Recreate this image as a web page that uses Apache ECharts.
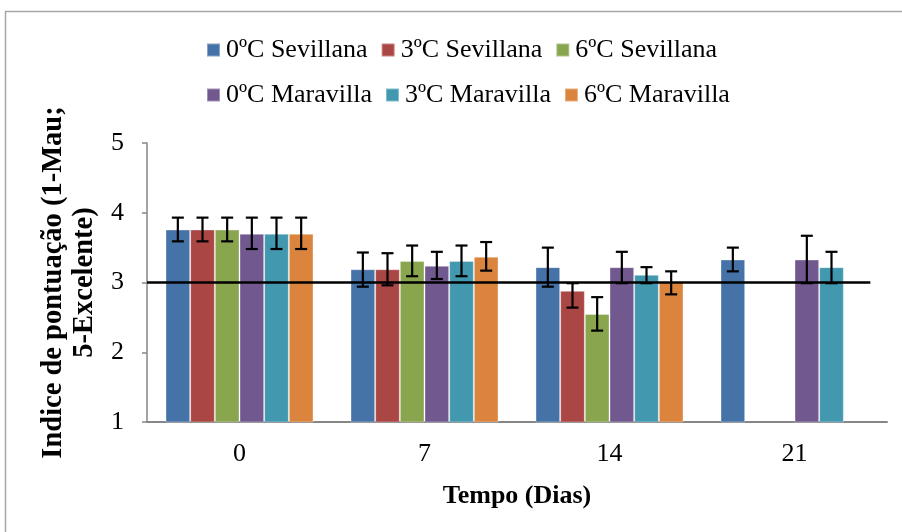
<!DOCTYPE html>
<html>
<head>
<meta charset="utf-8">
<script src="https://cdn.jsdelivr.net/npm/echarts@6/dist/echarts.min.js"></script>
<style>
html,body{margin:0;padding:0;background:#fff;}
#chart{width:902px;height:532px;}
</style>
</head>
<body>
<div id="chart"></div>
<script>
const categories = ['0', '7', '14', '21'];
const seriesNames = ['0ºC Sevillana', '3ºC Sevillana', '6ºC Sevillana', '0ºC Maravilla', '3ºC Maravilla', '6ºC Maravilla'];
const colors = ['#4572A7', '#AA4643', '#89A54E', '#71588F', '#4198AF', '#DB843D'];

const sev0 = [3.76, 3.19, 3.22, 3.33];
const sev3 = [3.76, 3.19, 2.88, null];
const sev6 = [3.76, 3.31, 2.55, null];
const mar0 = [3.70, 3.24, 3.22, 3.33];
const mar3 = [3.70, 3.31, 3.11, 3.22];
const mar6 = [3.70, 3.37, 3.01, null];

// error bar ends (upper / lower)
const sev0Hi = [3.93, 3.43, 3.50, 3.50];
const sev0Lo = [3.59, 2.94, 2.94, 3.16];
const sev3Hi = [3.93, 3.42, 2.99, null];
const sev3Lo = [3.59, 2.96, 2.64, null];
const sev6Hi = [3.93, 3.53, 2.79, null];
const sev6Lo = [3.59, 3.09, 2.31, null];
const mar0Hi = [3.93, 3.44, 3.44, 3.67];
const mar0Lo = [3.48, 3.05, 2.99, 2.99];
const mar3Hi = [3.93, 3.53, 3.22, 3.44];
const mar3Lo = [3.48, 3.09, 2.99, 2.99];
const mar6Hi = [3.93, 3.58, 3.16, null];
const mar6Lo = [3.48, 3.17, 2.83, null];

const refValue = 3;
const refLine = [[0, refValue], [3.91, refValue]];

const yTicks = [1, 2, 3, 4, 5];

const values = [sev0, sev3, sev6, mar0, mar3, mar6];
const his = [sev0Hi, sev3Hi, sev6Hi, mar0Hi, mar3Hi, mar6Hi];
const los = [sev0Lo, sev3Lo, sev6Lo, mar0Lo, mar3Lo, mar6Lo];

const FONT = '"Liberation Serif", "Times New Roman", serif';
const N = seriesNames.length;
const CAT_GAP = 0.2;

const errData = [];
for (let s = 0; s < N; s++) {
  for (let i = 0; i < categories.length; i++) {
    if (his[s][i] != null) errData.push([i, los[s][i], his[s][i], s]);
  }
}

const chart = echarts.init(document.getElementById('chart'), null, {renderer: 'canvas'});

const barSeries = seriesNames.map((name, s) => ({
  name: name,
  type: 'bar',
  xAxisIndex: 0,
  yAxisIndex: 0,
  data: values[s],
  barGap: '0%',
  barCategoryGap: (CAT_GAP * 100) + '%',
  itemStyle: {color: colors[s], borderColor: 'rgba(255,255,255,0.35)', borderWidth: 1},
  emphasis: {disabled: true},
  z: 2
}));

const option = {
  backgroundColor: '#ffffff',
  animation: false,
  textStyle: {fontFamily: FONT},
  graphic: [{
    type: 'rect',
    shape: {x: 5.5, y: 11.5, width: 1200, height: 1200},
    style: {fill: 'none', stroke: '#A6A6A6', lineWidth: 1.5},
    silent: true, z: 0
  }],
  legend: [{
    data: seriesNames.slice(0, 3),
    left: 206, top: 37, padding: 0,
    itemWidth: 13, itemHeight: 13, itemGap: 13,
    icon: 'rect',
    textStyle: {fontFamily: FONT, fontSize: 26, color: '#000', padding: [0, 0, 0, 1]}
  }, {
    data: seriesNames.slice(3, 6),
    left: 206, top: 82, padding: 0,
    itemWidth: 13, itemHeight: 13, itemGap: 13,
    icon: 'rect',
    textStyle: {fontFamily: FONT, fontSize: 26, color: '#000', padding: [0, 0, 0, 1]}
  }],
  grid: {left: 147, right: 15, top: 143, bottom: 110, containLabel: false},
  xAxis: [{
    type: 'category',
    data: categories,
    name: 'Tempo (Dias)',
    nameLocation: 'middle',
    nameGap: 61,
    nameTextStyle: {fontFamily: FONT, fontSize: 26, fontWeight: 'bold', color: '#000'},
    axisLine: {lineStyle: {color: '#868686', width: 2}},
    axisTick: {show: false},
    axisLabel: {fontFamily: FONT, fontSize: 26, color: '#000', margin: 19},
    splitLine: {show: false}
  }, {
    type: 'value',
    min: 0, max: categories.length,
    show: false
  }],
  yAxis: {
    type: 'value',
    min: yTicks[0], max: yTicks[yTicks.length - 1], interval: 1,
    name: 'Indice de pontuação (1-Mau;\n5-Excelente)',
    nameLocation: 'middle',
    nameGap: 35,
    nameRotate: 90,
    nameTextStyle: {fontFamily: FONT, fontSize: 28.5, fontWeight: 'bold', color: '#000', lineHeight: 31, align: 'center'},
    axisLine: {show: true, lineStyle: {color: '#868686', width: 1.5}},
    axisTick: {show: true, inside: false, length: 5, lineStyle: {color: '#868686', width: 1.5}},
    axisLabel: {fontFamily: FONT, fontSize: 26, color: '#000', margin: 23},
    splitLine: {show: false}
  },
  series: barSeries.concat([{
    name: 'ref',
    type: 'line',
    xAxisIndex: 1,
    yAxisIndex: 0,
    data: refLine,
    symbol: 'none',
    lineStyle: {color: '#000', width: 2.5},
    silent: true,
    z: 4
  }, {
    name: 'err',
    type: 'custom',
    xAxisIndex: 0,
    yAxisIndex: 0,
    data: errData,
    encode: {x: 0, y: [1, 2]},
    silent: true,
    z: 5,
    renderItem: function (params, api) {
      const ci = api.value(0);
      const s = api.value(3);
      const lo = api.coord([ci, api.value(1)]);
      const hi = api.coord([ci, api.value(2)]);
      const band = api.size([1, 0])[0];
      const bw = band * (1 - CAT_GAP) / N;
      const x = lo[0] + (s - (N - 1) / 2) * bw;
      const cap = 6;
      const st = {stroke: '#000', lineWidth: 2.2};
      return {
        type: 'group',
        children: [
          {type: 'line', shape: {x1: x, y1: hi[1], x2: x, y2: lo[1]}, style: st},
          {type: 'line', shape: {x1: x - cap, y1: hi[1], x2: x + cap, y2: hi[1]}, style: st},
          {type: 'line', shape: {x1: x - cap, y1: lo[1], x2: x + cap, y2: lo[1]}, style: st}
        ]
      };
    }
  }])
};

chart.setOption(option);
</script>
</body>
</html>
